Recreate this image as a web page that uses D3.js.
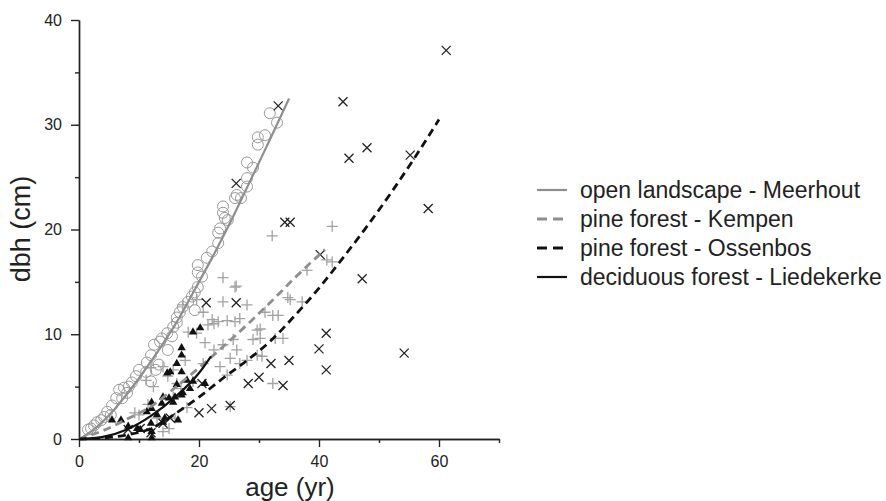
<!DOCTYPE html>
<html>
<head>
<meta charset="utf-8">
<script src="https://cdn.jsdelivr.net/npm/d3@7/dist/d3.min.js"></script>
<style>
    body { margin: 0; background: #fff; }
    svg { display: block; font-family: 'Liberation Sans', Arial, sans-serif; }
</style>
</head>
<body>
<div id="chart"></div>
<script>
// observed points [age, dbh]
var meerhoutPoints = [[1.5,0.9],[2.0,1.0],[2.5,1.3],[3.0,1.6],[3.7,1.8],[4.2,2.1],[4.7,2.6],[5.3,2.3],[5.5,3.2],
    [6.2,3.9],[6.7,4.7],[7.2,3.9],[7.5,4.9],[8.0,4.4],[8.3,5.0],[8.8,5.4],[9.5,6.0],[10.0,6.6],[11.2,6.4],
    [11.3,7.3],[12.0,8.0],[12.5,9.0],[12.8,6.6],[13.3,7.1],[12.0,5.5],[13.5,9.3],[13.8,9.6],[14.7,10.1],
    [14.8,8.5],[15.5,9.8],[15.7,10.7],[16.3,11.1],[16.3,11.6],[16.8,12.1],[17.3,12.6],[18.2,13.1],[18.8,13.6],
    [19.3,14.0],[19.3,12.3],[19.8,14.5],[20.5,15.5],[19.8,15.9],[19.8,16.6],[21.3,17.3],[22.2,17.9],[23.2,18.7],
    [23.2,19.7],[23.5,20.1],[24.8,20.9],[24.3,21.1],[24.0,21.6],[24.0,22.2],[26.0,23.0],[26.3,23.3],[27.0,23.0],
    [28.0,24.1],[28.0,24.9],[29.0,25.9],[28.0,26.4],[29.8,28.1],[29.8,28.8],[31.0,29.0],[31.8,31.1],[33.0,30.2]];

var kempenPoints = [[24.0,15.4],[26.2,14.6],[17.3,12.8],[19.6,13.3],[24.0,13.1],[28.0,12.8],[20.7,12.1],[22.2,11.4],
    [23.2,11.2],[24.7,11.3],[26.0,11.2],[26.8,11.5],[22.5,11.0],[21.5,10.9],[19.6,10.1],[18.2,10.2],[25.7,9.5],
    [30.2,9.6],[32.3,11.8],[35.2,13.3],[29.7,10.4],[34.0,9.6],[26.3,8.5],[25.2,7.7],[28.0,7.5],[29.7,8.0],
    [23.5,6.9],[20.7,7.2],[17.7,7.5],[15.7,6.6],[14.0,6.9],[14.8,6.0],[12.4,5.0],[16.3,5.3],[19.0,5.5],
    [24.7,6.1],[26.8,7.2],[32.3,5.3],[25.2,3.1],[15.7,4.0],[16.0,2.0],[14.0,0.7],[9.3,2.5],[12.0,6.8],
    [11.2,5.6],[32.2,19.4],[42.2,20.3],[41.3,17.1],[38.0,16.1],[34.8,13.5],[37.2,13.1],[31.0,12.1],[33.2,11.8],
    [30.5,7.9],[29.0,9.5],[32.7,9.6],[26.0,14.5],[42.2,16.9],[30.2,10.5],[13.0,2.0],[15.0,1.0],
    [18.0,3.0],[21.0,9.2],[22.5,8.5],[10.0,2.3],[11.5,3.3],[17.0,4.8],[24.0,9.0]];

var ossenbosPoints = [[33.2,31.8],[26.2,24.4],[34.3,20.7],[35.2,20.7],[44.0,32.2],[61.2,37.1],[48.0,27.8],[45.0,26.8],
    [55.2,27.1],[58.2,22.0],[40.2,17.6],[47.2,15.3],[41.2,10.1],[40.0,8.6],[41.2,6.6],[54.2,8.2],[35.0,7.5],
    [32.0,7.2],[30.0,5.9],[34.0,5.1],[28.2,5.3],[21.2,13.0],[26.2,13.0],[20.0,2.5],[22.1,2.9],[25.2,3.2],
    [20.5,5.3],[8.2,0.9],[10.2,1.0],[14.0,1.5],[12.0,0.6],[15.2,2.0]];

var liedekerkePoints = [[20.2,10.6],[19.0,10.2],[17.1,8.7],[17.1,8.0],[16.3,7.2],[15.2,6.4],[17.1,6.4],[14.7,6.3],
    [16.3,5.2],[18.0,5.6],[19.0,5.5],[21.0,5.3],[17.1,4.2],[17.3,4.4],[14.0,4.0],[15.0,3.9],[16.0,4.0],[12.1,3.5],
    [15.7,3.5],[13.8,3.4],[12.1,2.9],[11.3,2.6],[13.0,2.3],[5.5,1.8],[7.0,1.8],[8.2,1.2],[9.7,1.0],[10.2,0.9],
    [14.0,1.6],[14.3,2.0],[12.1,0.7],[12.0,1.5],[8.2,0.1],[12.1,0.1],[16.5,1.8],[18.5,4.8]];

// fitted growth curves
var meerhoutCurveAge = [0, 2, 4, 6, 8, 10, 12, 14, 16, 18, 20, 22, 24, 26, 28, 30, 32, 35];
var meerhoutCurveDbh = [0, 0.7, 1.7, 2.9, 4.3, 5.8, 7.4, 9.1, 10.9, 12.9, 15.0, 17.1, 19.3, 21.6, 24.0, 26.4, 28.8, 32.5];
var kempenCurveAge = [0, 4, 8, 12, 16, 20, 24, 28, 32, 36, 41];
var kempenCurveDbh = [0, 0.8, 1.9, 3.1, 4.9, 6.8, 8.8, 10.9, 13.1, 15.4, 18.1];
var ossenbosCurveAge = [0, 4, 8, 12, 16, 20, 24, 28, 32, 36, 40, 44, 48, 52, 56, 60];
var ossenbosCurveDbh = [0, 0.1, 0.4, 1.0, 2.4, 4.0, 5.8, 7.5, 9.4, 11.8, 14.4, 17.3, 20.3, 23.5, 26.9, 30.5];
var liedekerkeCurveAge = [0, 4, 8, 12, 16, 20, 22];
var liedekerkeCurveDbh = [0, 0.2, 0.9, 2.2, 4.0, 6.3, 7.9];

var xMajorTicks = [0, 20, 40, 60];
var xMinorTicks = [10, 30, 50, 70];
var yMajorTicks = [0, 10, 20, 30, 40];
var yMinorTicks = [5, 15, 25, 35];

var legendLabels = ['open landscape - Meerhout', 'pine forest - Kempen', 'pine forest - Ossenbos', 'deciduous forest - Liedekerke'];

var grey = '#8e8e8e';
var width = 886;
var height = 501;

var svg = d3.select('#chart').append('svg')
    .attr('width', width)
    .attr('height', height);

var x = d3.scaleLinear().domain([0, 70]).range([79, 499]);
var y = d3.scaleLinear().domain([0, 40]).range([439, 20]);

// axes
function styleAxis (g) {
    g.select('.domain').attr('stroke', '#222').attr('stroke-width', 1.4);
    g.selectAll('.tick line').attr('stroke', '#222').attr('stroke-width', 1.4);
    g.selectAll('.tick text').attr('fill', '#222').style('font-size', '16px')
        .style('font-family', "'Liberation Sans', Arial, sans-serif");
}

svg.append('g')
    .attr('transform', 'translate(0,439)')
    .call(d3.axisBottom(x).tickValues(xMinorTicks).tickSize(4).tickSizeOuter(0).tickFormat(''))
    .call(styleAxis);
svg.append('g')
    .attr('transform', 'translate(0,439)')
    .call(d3.axisBottom(x).tickValues(xMajorTicks).tickSize(8).tickSizeOuter(0).tickPadding(9))
    .call(styleAxis);

svg.append('g')
    .attr('transform', 'translate(79,0)')
    .call(d3.axisLeft(y).tickValues(yMinorTicks).tickSize(4).tickSizeOuter(0).tickFormat(''))
    .call(styleAxis);
svg.append('g')
    .attr('transform', 'translate(79,0)')
    .call(d3.axisLeft(y).tickValues(yMajorTicks).tickSize(8).tickSizeOuter(0).tickPadding(9))
    .call(styleAxis);

svg.append('text')
    .attr('x', 290)
    .attr('y', 496)
    .attr('text-anchor', 'middle')
    .style('font-size', '26px')
    .attr('fill', '#222')
    .text('age (yr)');

svg.append('text')
    .attr('transform', 'translate(30,229) rotate(-90)')
    .attr('text-anchor', 'middle')
    .style('font-size', '27px')
    .attr('fill', '#222')
    .text('dbh (cm)');

// markers
var plot = svg.append('g');

plot.selectAll('.meerhout')
    .data(meerhoutPoints)
    .enter()
    .append('circle')
    .attr('cx', function (d) { return x(d[0]); })
    .attr('cy', function (d) { return y(d[1]); })
    .attr('r', 5.5)
    .attr('fill', 'none')
    .attr('stroke', '#9a9a9a')
    .attr('stroke-width', 1);

var plus = 'M-5.5,0H5.5M0,-5.5V5.5';
plot.selectAll('.kempen')
    .data(kempenPoints)
    .enter()
    .append('path')
    .attr('transform', function (d) { return 'translate(' + x(d[0]) + ',' + y(d[1]) + ')'; })
    .attr('d', plus)
    .attr('stroke', '#a2a2a2')
    .attr('stroke-width', 1.3);

var cross = 'M-4.5,-4.5L4.5,4.5M-4.5,4.5L4.5,-4.5';
plot.selectAll('.ossenbos')
    .data(ossenbosPoints)
    .enter()
    .append('path')
    .attr('transform', function (d) { return 'translate(' + x(d[0]) + ',' + y(d[1]) + ')'; })
    .attr('d', cross)
    .attr('stroke', '#222')
    .attr('stroke-width', 1.3);

plot.selectAll('.liedekerke')
    .data(liedekerkePoints)
    .enter()
    .append('path')
    .attr('transform', function (d) { return 'translate(' + x(d[0]) + ',' + y(d[1]) + ')'; })
    .attr('d', d3.symbol().type(d3.symbolTriangle).size(30))
    .attr('fill', '#111');

// curves
var line = d3.line()
    .x(function (d) { return x(d[0]); })
    .y(function (d) { return y(d[1]); })
    .curve(d3.curveMonotoneX);

var curves = [
    { age: meerhoutCurveAge, dbh: meerhoutCurveDbh, color: grey, dash: null, w: 2.2 },
    { age: kempenCurveAge, dbh: kempenCurveDbh, color: grey, dash: '8,5', w: 2.8 },
    { age: ossenbosCurveAge, dbh: ossenbosCurveDbh, color: '#111', dash: '8,5', w: 2.8 },
    { age: liedekerkeCurveAge, dbh: liedekerkeCurveDbh, color: '#111', dash: null, w: 2.2 }
];

curves.forEach(function (c) {
    var pts = c.age.map(function (a, i) { return [a, c.dbh[i]]; });
    plot.append('path')
        .attr('d', line(pts))
        .attr('fill', 'none')
        .attr('stroke', c.color)
        .attr('stroke-width', c.w)
        .attr('stroke-dasharray', c.dash);
});

// legend
var legend = svg.append('g').attr('transform', 'translate(537,190)');
legendLabels.forEach(function (label, i) {
    var c = curves[i];
    legend.append('line')
        .attr('x1', 0)
        .attr('x2', 30)
        .attr('y1', i * 29)
        .attr('y2', i * 29)
        .attr('stroke', c.color)
        .attr('stroke-width', c.w)
        .attr('stroke-dasharray', c.dash ? '10,6' : null);
    legend.append('text')
        .attr('x', 43)
        .attr('y', i * 29 + 8)
        .style('font-size', '23px')
        .attr('fill', '#222')
        .text(label);
});
</script>
</body>
</html>
